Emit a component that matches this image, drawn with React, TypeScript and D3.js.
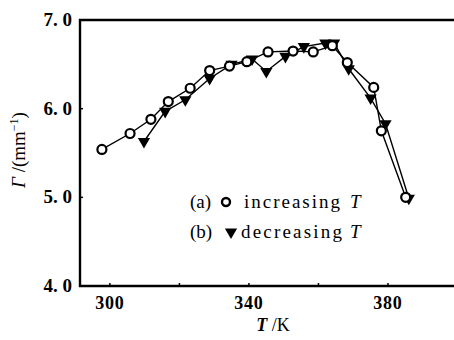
import React, { useRef, useEffect } from 'react';
import * as d3 from 'd3';

// series (a): increasing T
const incT = [297.7, 305.8, 311.8, 316.8, 323.1, 328.7, 334.4, 339.4, 345.5, 352.7, 358.5, 364.0, 368.3, 375.9, 378.1, 385.1];
const incG = [5.54, 5.72, 5.88, 6.08, 6.23, 6.43, 6.48, 6.53, 6.64, 6.65, 6.64, 6.71, 6.52, 6.24, 5.75, 5.0];

// series (b): decreasing T
const decT = [309.8, 315.9, 321.7, 328.7, 335.0, 340.9, 345.0, 350.5, 355.8, 362.0, 364.5, 368.7, 375.0, 379.3, 386.0];
const decG = [5.63, 5.97, 6.10, 6.34, 6.50, 6.56, 6.42, 6.59, 6.70, 6.74, 6.74, 6.45, 6.12, 5.83, 4.99];

const xTicks = [300, 320, 340, 360, 380];
const xLabels = [300, 340, 380];
const yTicks = [4, 5, 6, 7];

const W = 454;
const H = 340;

const App = () => {
  const svgRef = useRef<SVGSVGElement>(null);

  useEffect(() => {
    const svg = d3.select(svgRef.current);
    svg.selectAll('*').remove();

    const margin = { top: 20, right: 0, bottom: 54, left: 80 };
    const x = d3.scaleLinear().domain([291.4, 399]).range([margin.left, W - margin.right]);
    const y = d3.scaleLinear().domain([4, 7]).range([H - margin.bottom, margin.top]);

    const serif = '"Liberation Serif", "DejaVu Serif", serif';

    // frame: left, top, bottom
    const g = svg.append('g');
    g.append('path')
      .attr('d', `M${W},${y(7)}H${x(291.4)}V${y(4)}H${W}`)
      .attr('fill', 'none')
      .attr('stroke', '#000')
      .attr('stroke-width', 2.4);

    // inward ticks
    g.selectAll('.xt')
      .data(xTicks)
      .enter()
      .append('line')
      .attr('x1', d => x(d))
      .attr('x2', d => x(d))
      .attr('y1', y(4))
      .attr('y2', y(4) - 3)
      .attr('stroke', '#000')
      .attr('stroke-width', 1.5);

    g.selectAll('.yt')
      .data(yTicks.slice(1, 3))
      .enter()
      .append('line')
      .attr('x1', x(291.4))
      .attr('x2', x(291.4) + 3)
      .attr('y1', d => y(d))
      .attr('y2', d => y(d))
      .attr('stroke', '#000')
      .attr('stroke-width', 1.5);

    // tick labels
    g.selectAll('.xl')
      .data(xLabels)
      .enter()
      .append('text')
      .attr('x', d => x(d))
      .attr('y', 309)
      .attr('text-anchor', 'middle')
      .attr('font-family', serif)
      .attr('font-weight', 'bold')
      .attr('font-size', 18)
      .attr('letter-spacing', 0.8)
      .text(d => d);

    g.selectAll('.yl')
      .data(yTicks)
      .enter()
      .append('text')
      .attr('x', 72)
      .attr('y', d => y(d) + 6)
      .attr('text-anchor', 'end')
      .attr('font-family', serif)
      .attr('font-weight', 'bold')
      .attr('font-size', 19)
      .text(d => d.toFixed(1).replace('.', '. '));

    // axis titles
    const xt = g.append('text')
      .attr('x', 273)
      .attr('y', 331)
      .attr('text-anchor', 'middle')
      .attr('font-family', serif)
      .attr('font-size', 18);
    xt.append('tspan').attr('font-style', 'italic').attr('font-weight', 'bold').text('T');
    xt.append('tspan').text(' /K');

    const yt = g.append('text')
      .attr('transform', 'translate(25,150) rotate(-90)')
      .attr('text-anchor', 'middle')
      .attr('font-family', serif)
      .attr('font-size', 19);
    yt.append('tspan').attr('font-style', 'italic').text('Γ');
    yt.append('tspan').text(' /(mm');
    yt.append('tspan').attr('font-size', 12).attr('dy', -7).text('−1');
    yt.append('tspan').attr('dy', 7).text(')');

    const line = d3.line<[number, number]>().x(d => x(d[0])).y(d => y(d[1]));
    const inc: [number, number][] = incT.map((t, i) => [t, incG[i]]);
    const dec: [number, number][] = decT.map((t, i) => [t, decG[i]]);

    g.append('path').attr('d', line(dec)).attr('fill', 'none').attr('stroke', '#000').attr('stroke-width', 1.4);
    g.append('path').attr('d', line(inc)).attr('fill', 'none').attr('stroke', '#000').attr('stroke-width', 1.4);

    const tri = d3.symbol().type(d3.symbolTriangle).size(65);
    g.selectAll('.tri')
      .data(dec)
      .enter()
      .append('path')
      .attr('d', tri)
      .attr('transform', d => `translate(${x(d[0])},${y(d[1])}) rotate(180)`)
      .attr('fill', '#000');

    g.selectAll('.circ')
      .data(inc)
      .enter()
      .append('circle')
      .attr('cx', d => x(d[0]))
      .attr('cy', d => y(d[1]))
      .attr('r', 4.5)
      .attr('fill', '#fff')
      .attr('stroke', '#000')
      .attr('stroke-width', 2.2);

    // legend
    const legend = [
      { tag: '(a)', label: 'increasing', mark: 'circle', y: 208 },
      { tag: '(b)', label: 'decreasing', mark: 'tri', y: 238 },
    ];
    legend.forEach(l => {
      g.append('text')
        .attr('x', 190)
        .attr('y', l.y)
        .attr('font-family', serif)
        .attr('font-size', 19)
        .text(l.tag);
      if (l.mark === 'circle') {
        g.append('circle').attr('cx', 226).attr('cy', l.y - 6).attr('r', 4).attr('fill', '#fff').attr('stroke', '#000').attr('stroke-width', 2.4);
      } else {
        g.append('path').attr('d', tri).attr('transform', `translate(231,${l.y - 6}) rotate(180)`).attr('fill', '#000');
      }
      const t = g.append('text')
        .attr('x', l.mark === 'circle' ? 244 : 241)
        .attr('y', l.y)
        .attr('font-family', serif)
        .attr('font-size', 19);
      t.append('tspan').attr('textLength', l.mark === 'circle' ? 96 : 101).attr('lengthAdjust', 'spacing').text(l.label);
      t.append('tspan').attr('x', 350).attr('font-style', 'italic').text('T');
    });
  }, []);

  return (
    <svg
      ref={svgRef}
      width={W}
      height={H}
      style={{ position: 'absolute', left: 0, top: 0, background: '#fff' }}
    />
  );
};

export default App;
